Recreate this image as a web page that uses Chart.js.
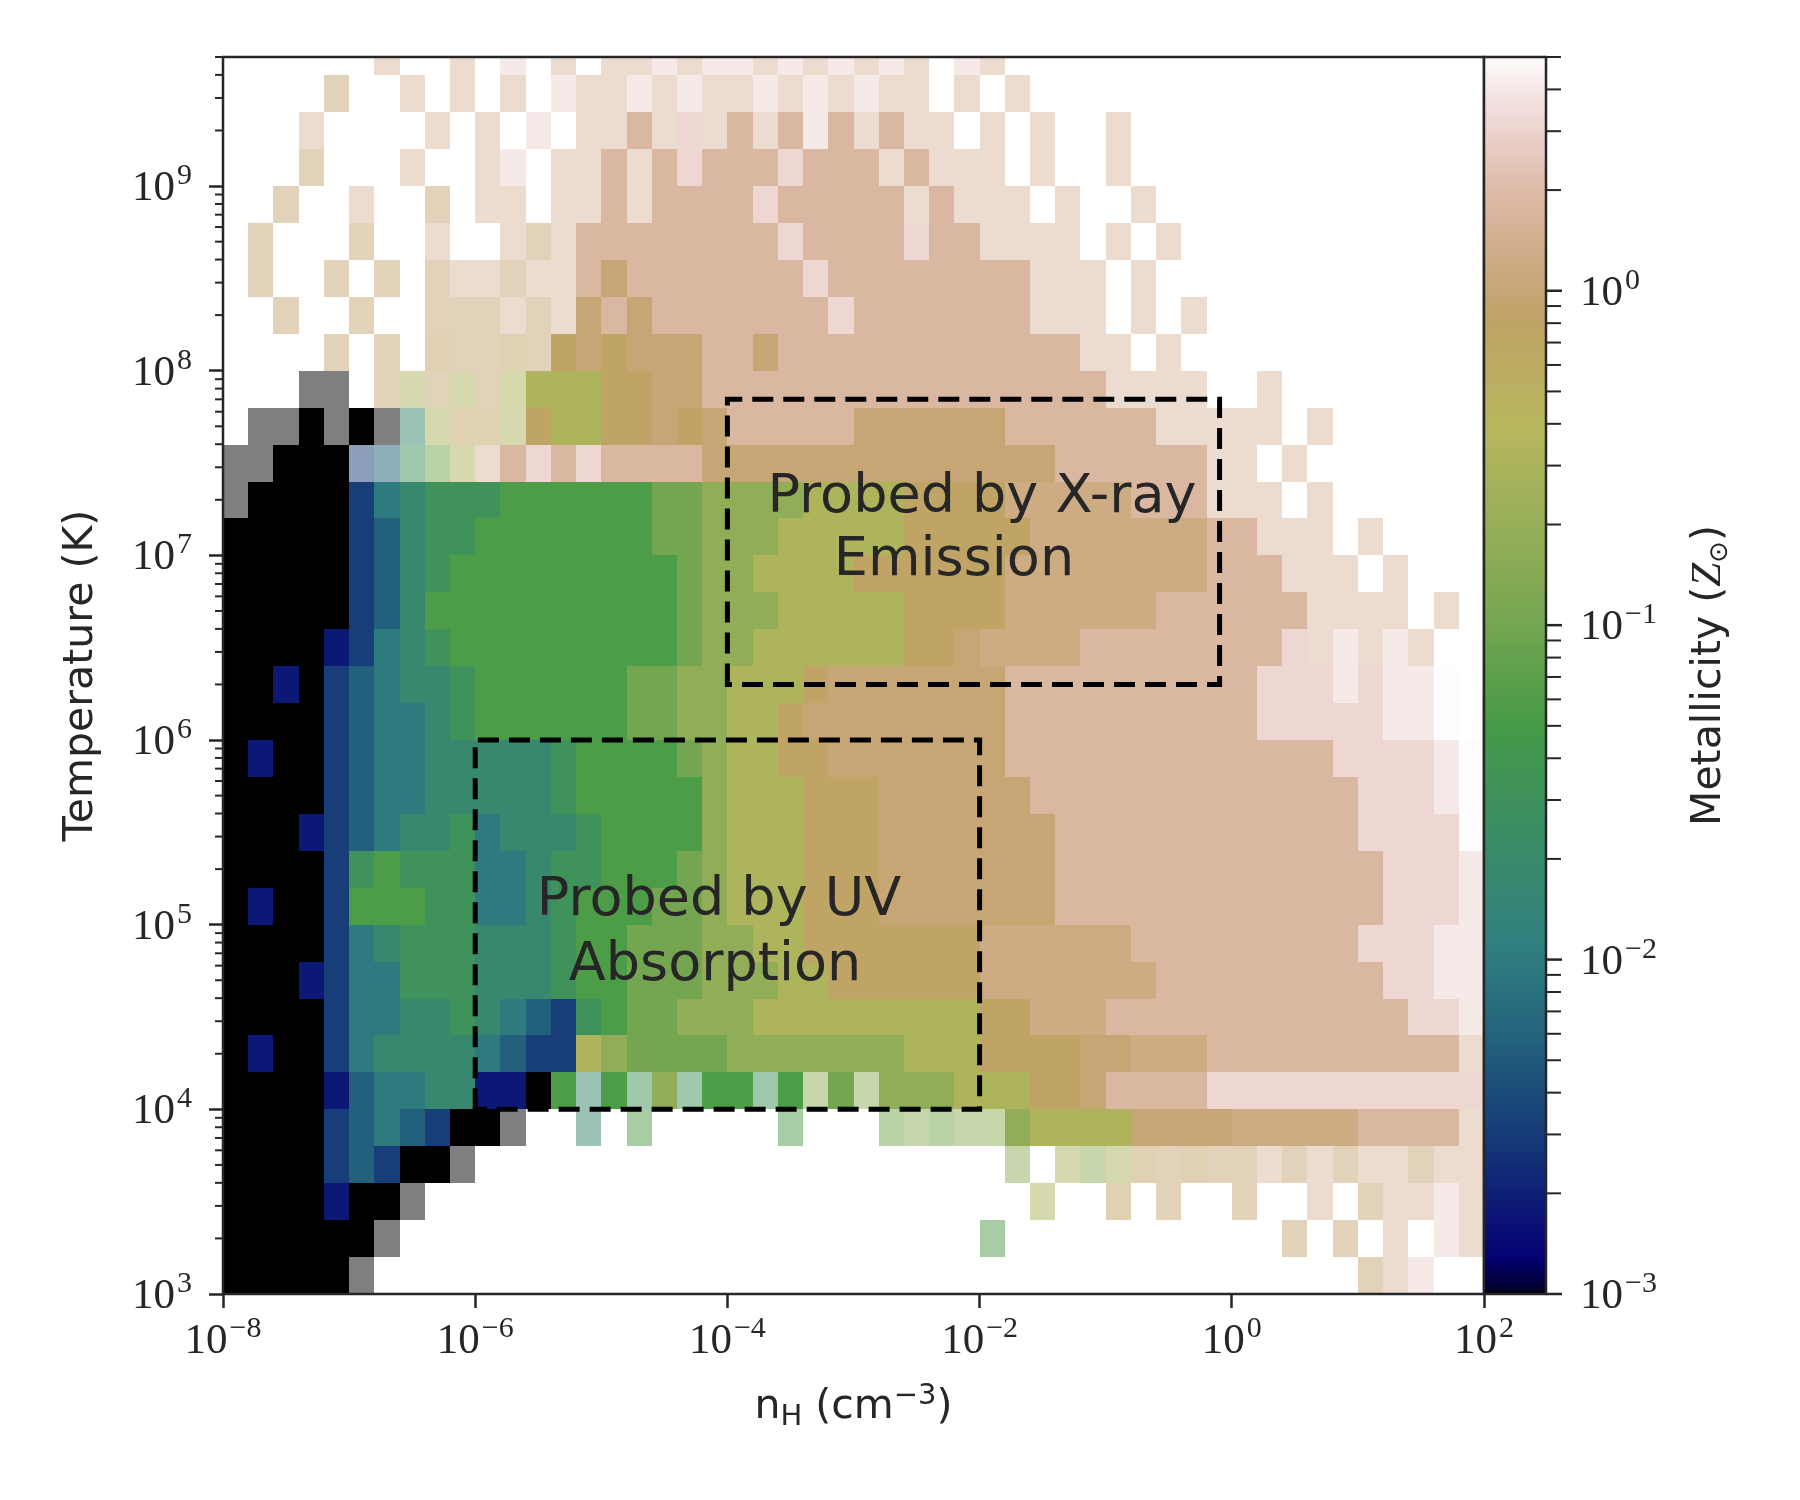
<!DOCTYPE html>
<html>
<head>
<meta charset="utf-8">
<script src="https://cdn.jsdelivr.net/npm/chart.js"></script>
<style>
  body { margin: 0; background: #ffffff; }
  canvas { display: block; }
</style>
</head>
<body>
<canvas id="fase" width="1800" height="1500"></canvas>
<script>
const lienzo = document.getElementById("fase"); // aqui se pinta todo

// histograma de fase: celdas de 0.2 dex en n_H (desde 1e-8) y filas de 0.2 dex en T
const nHMinLog = -8;
const nHBinDex = 0.2;
const tempBinDex = 0.2;
const tempRowsLogT = [9.7, 9.5, 9.3, 9.1, 8.9, 8.7, 8.5, 8.3, 8.1, 7.9, 7.7, 7.5, 7.3, 7.1, 6.9, 6.7, 6.5,
  6.3, 6.1, 5.9, 5.7, 5.5, 5.3, 5.1, 4.9, 4.7, 4.5, 4.3, 4.1, 3.9, 3.7, 3.5, 3.3, 3.1];

// codigo de metalicidad por celda (log10 Z/Zsun); minuscula = celda rala, "." = vacia
const metalLevels = {
  A: -3, B: -2.75, C: -2.5, D: -2.25, E: -2, F: -1.75, G: -1.5, H: -1.25,
  I: -1, J: -0.75, K: -0.5, L: -0.1, M: 0, Q: 0.08, N: 0.25, O: 0.5, P: 0.7
};

// una fila por temperatura (de arriba hacia abajo), 50 columnas de n_H cada una
const metalRows = [
  "......n..n" + ".o.n.nnono" + "onononon.o" + "n........." + "..........",
  "....m..n.n" + ".n.onnonon" + "nonononn.n" + ".n........" + "..........",
  "...n....n." + "n.o.nnNnOn" + "NnNoNnNnn." + "n.n..n...." + "..........",
  "...m...n.." + "no.nnNnNON" + "NNONNNnNnn" + "n.n..n...." + "..........",
  "..m..n..m." + "nn.nnNnNNN" + "NONNNNNnNn" + "nn.n..n..." + "..........",
  ".m...m..n." + ".nmnNNNNNN" + "NNONNNNONN" + "nnnn.n.n.." + "..........",
  ".m..m.m.mn" + "nmnnNMNNNN" + "NNNONNNNNN" + "NNnnn.n..." + "..........",
  "..m..m..mm" + "mnmnMNMNNN" + "NNNNONNNNN" + "NNnnn.n.n." + "..........",
  "....m.m.lm" + "mlmLMLMMMN" + "NMNNNNNNNN" + "NNNNnn.n.." + "..........",
  "...aa.mkmk" + "mkKKKLLMMN" + "NNNNNNNNNN" + "NNNNNnnnn." + ".n........",
  ".aaAaAafkl" + "lkLKKLLMLM" + "NNNNNMMMMM" + "MNNNNNNnnn" + "nn.n......",
  "aaAAAcdgik" + "nNONONNNNM" + "MMMMMMMMMM" + "MMMNNNNNNn" + "n.n.......",
  "aAAAACEFGG" + "GHHHHHHIIJ" + "JJJKKKKLLL" + "LQQQQQNNNn" + "nn.n......",
  "AAAAACDFGG" + "HHHHHHHIIJ" + "JJKKKKKLLL" + "LLQQQQQQQN" + "Nnnn.n....",
  "AAAAACDFGH" + "HHHHHHHHIJ" + "JKKKKLLLLL" + "LQQQQQQQQN" + "NNnnn.n...",
  "AAAAACDFHH" + "HHHHHHHHIJ" + "JJKKKKKLLL" + "LQQQQQQNNN" + "NNNnnnn.n.",
  "AAAABCEFGH" + "HHHHHHHHIJ" + "JKKKKKKLLM" + "QQQQNNNNNN" + "NNOnonon..",
  "AABACDEFFG" + "HHHHHHIIJJ" + "KKKLMMMMMM" + "MNNNNNNNNN" + "NOOOoOoop.",
  "AAAACDEEFG" + "HHHHHHIIJJ" + "KKLMMMMMMM" + "MNNNNNNNNN" + "NOOOOOoop.",
  "ABAACDEEFF" + "FFFGHHHHIJ" + "KKLLMMMMMM" + "MNNNNNNNNN" + "NNNNOOOOop",
  "AAAACDEEFF" + "FFFGHHHHHJ" + "KKKLLLMMMM" + "MMNNNNNNNN" + "NNNNNOOOop",
  "AAABCDEFFG" + "EFFFGHHHHJ" + "KKKLLLMMMM" + "MMMNNNNNNN" + "NNNNNOOOOp",
  "AAAACGHGGG" + "EEFGGHHHIJ" + "KKKLLLMMMM" + "MMMNNNNNNN" + "NNNNNNOOOo",
  "ABAACHHHGG" + "EEFGHHHIIJ" + "KKKLLLMMMM" + "MMMNNNNNNN" + "NNNNNNOOOo",
  "AAAACEFGGG" + "FFFGHHIIIJ" + "JKKLLLLLLL" + "QQQQQQNNNN" + "NNNNNOOOoo",
  "AAABCEEGGG" + "FFFGHHIIIJ" + "JJKKLLLLLL" + "QQQQQQQNNN" + "NNNNNNOOoo",
  "AAAACEEFFG" + "FEDCGHIIJJ" + "JKKKKKKKKK" + "LLQQQNNNNN" + "NNNNNNNOOo",
  "ABAACEFFFF" + "EDCCKJIIII" + "JJJJJJJKKK" + "LLLLMMQQQN" + "NNNNNNNNNn",
  "AAAABDEEFF" + "BBAHfHgJgH" + "HgHjIjJJJK" + "KKLLMNNNNO" + "OOOOOOOOOO",
  "AAAACDEDCA" + "Aa..f.h..." + "..h...ijij" + "jJKKKKMMMM" + "QQQQQNNNNn",
  "AAAACDCAAa" + ".........." + ".........." + ".j.kjklmlm" + "mnmnmnnmnn",
  "AAAABAAa.." + ".........." + ".........." + "..k..l.m.." + "m..n.mnnon",
  "AAAAAAa..." + ".........." + ".........." + "h........." + "..m.m.n.on",
  "AAAAAa...." + ".........." + ".........." + ".........." + ".....mno.."
];

const xTickValues = [1e-8, 1e-6, 1e-4, 1e-2, 1, 1e2];
const yTickValues = [1e3, 1e4, 1e5, 1e6, 1e7, 1e8, 1e9];
const cbTickValues = [1e-3, 1e-2, 1e-1, 1];

// regiones sondeadas (n_H, T)
const cajaUV = { nH: [1e-6, 1e-2], T: [1e4, 1e6] };
const cajaX = { nH: [1e-4, 0.8], T: [2e6, 7e7] };

// mapa de color gist_earth
const gistEarth = {
  red: [[0, 0], [0.2824, 0.1882], [0.4588, 0.2714], [0.549, 0.4719], [0.698, 0.7176], [0.7882, 0.7553], [1, 0.9922]],
  green: [[0, 0], [0.0275, 0], [0.1098, 0.1893], [0.1647, 0.3035], [0.2078, 0.3841], [0.2824, 0.502], [0.5216, 0.6397],
    [0.698, 0.7171], [0.7882, 0.6392], [0.7922, 0.6413], [0.8, 0.6447], [0.8078, 0.6481], [0.8157, 0.6549], [0.8667, 0.6991],
    [0.8745, 0.7103], [0.8824, 0.7216], [0.8902, 0.7323], [0.898, 0.743], [0.9412, 0.8275], [0.9569, 0.8635], [0.9647, 0.8816],
    [0.9961, 0.9733], [1, 0.9843]],
  blue: [[0, 0], [0.0039, 0.1684], [0.0078, 0.2212], [0.0275, 0.4329], [0.0314, 0.4549], [0.2824, 0.5004], [0.4667, 0.2748],
    [0.5451, 0.3205], [0.7843, 0.3961], [0.8941, 0.6651], [1, 0.9843]]
};

const TINTA = "#262626";
const SERIF = '"Liberation Serif", "DejaVu Serif", serif';
const SANS = '"DejaVu Sans", sans-serif';
const zMin = 1e-3;
const zMax = 5;

const interpolarCanal = (puntos, t) => {
  for (let k = 1; k < puntos.length; k++) {
    if (t <= puntos[k][0]) {
      const [t0, v0] = puntos[k - 1];
      const [t1, v1] = puntos[k];
      return v0 + ((t - t0) / (t1 - t0)) * (v1 - v0);
    }
  }
  return puntos[puntos.length - 1][1];
};

const colorGistEarth = (t) => {
  const tt = Math.min(1, Math.max(0, t));
  const r = Math.round(255 * interpolarCanal(gistEarth.red, tt));
  const g = Math.round(255 * interpolarCanal(gistEarth.green, tt));
  const b = Math.round(255 * interpolarCanal(gistEarth.blue, tt));
  return `rgb(${r},${g},${b})`;
};

const colorMetal = (logZ) => {
  const lo = Math.log10(zMin);
  const hi = Math.log10(zMax);
  return colorGistEarth((logZ - lo) / (hi - lo));
};

// las celdas se pintan con las escalas de chart.js
const dibujarCeldas = (chart) => {
  const { ctx, chartArea, scales } = chart;
  const x = scales.x;
  const y = scales.y;
  ctx.save();
  ctx.beginPath();
  ctx.rect(chartArea.left, chartArea.top, chartArea.width, chartArea.height);
  ctx.clip();
  metalRows.forEach((fila, r) => {
    const tc = tempRowsLogT[r];
    const y0 = Math.round(y.getPixelForValue(Math.pow(10, tc + tempBinDex / 2)));
    const y1 = Math.round(y.getPixelForValue(Math.pow(10, tc - tempBinDex / 2)));
    [...fila].forEach((c, i) => {
      if (c === ".") return;
      const lo = nHMinLog + i * nHBinDex;
      const x0 = Math.round(x.getPixelForValue(Math.pow(10, lo)));
      const x1 = Math.round(x.getPixelForValue(Math.pow(10, lo + nHBinDex)));
      const nivel = metalLevels[c.toUpperCase()];
      ctx.globalAlpha = c === c.toUpperCase() ? 1 : 0.5;
      ctx.fillStyle = colorMetal(nivel);
      ctx.fillRect(x0, y0, x1 - x0, y1 - y0);
    });
  });
  ctx.restore();
};

const dibujarCaja = (chart, caja) => {
  const { ctx, scales } = chart;
  const x0 = scales.x.getPixelForValue(caja.nH[0]);
  const x1 = scales.x.getPixelForValue(caja.nH[1]);
  const y0 = scales.y.getPixelForValue(caja.T[1]);
  const y1 = scales.y.getPixelForValue(caja.T[0]);
  ctx.save();
  ctx.strokeStyle = "#000000";
  ctx.lineWidth = 5;
  ctx.setLineDash([21, 10]);
  ctx.beginPath();
  ctx.moveTo(x0, y1);
  ctx.lineTo(x0, y0);
  ctx.lineTo(x1, y0);
  ctx.lineTo(x1, y1);
  ctx.closePath();
  ctx.stroke();
  ctx.restore();
};

const dibujarTextos = (chart) => {
  const { ctx } = chart;
  ctx.save();
  ctx.fillStyle = TINTA;
  ctx.font = `54px ${SANS}`;
  ctx.textAlign = "center";
  ctx.textBaseline = "alphabetic";
  ctx.fillText("Probed by X-ray", 982, 512);
  ctx.fillText("Emission", 954, 575);
  ctx.fillText("Probed by UV", 719, 915);
  ctx.fillText("Absorption", 715, 980);
  ctx.restore();
};

// "10" con exponente en superindice
const dibujarPotencia = (ctx, exp, xAncla, yBase, alinear) => {
  const base = "10";
  const sup = exp < 0 ? "\u2212" + Math.abs(exp) : String(exp);
  ctx.font = `43px ${SERIF}`;
  const wb = ctx.measureText(base).width;
  ctx.font = `30px ${SERIF}`;
  const ws = ctx.measureText(sup).width + 2;
  const total = wb + ws;
  let x0 = xAncla;
  if (alinear === "center") x0 = xAncla - total / 2;
  if (alinear === "right") x0 = xAncla - total;
  ctx.textAlign = "left";
  ctx.textBaseline = "alphabetic";
  ctx.font = `43px ${SERIF}`;
  ctx.fillText(base, x0, yBase);
  ctx.font = `30px ${SERIF}`;
  ctx.fillText(sup, x0 + wb + 2, yBase - 16);
};

const menores = (desde, hasta) => {
  const lista = [];
  for (let k = Math.floor(Math.log10(desde)); k <= Math.ceil(Math.log10(hasta)); k++) {
    for (let m = 2; m <= 9; m++) {
      const v = m * Math.pow(10, k);
      if (v >= desde && v <= hasta * 1.0001) lista.push(v);
    }
  }
  return lista;
};

const linea = (ctx, x0, y0, x1, y1) => {
  ctx.beginPath();
  ctx.moveTo(x0, y0);
  ctx.lineTo(x1, y1);
  ctx.stroke();
};

const dibujarPartes = (ctx, partes, xCentro, yBase) => {
  let total = 0;
  partes.forEach((p) => {
    ctx.font = p.f;
    p.w = ctx.measureText(p.t).width;
    total += p.w;
  });
  let xx = xCentro - total / 2;
  ctx.textAlign = "left";
  ctx.textBaseline = "alphabetic";
  partes.forEach((p) => {
    ctx.font = p.f;
    ctx.fillText(p.t, xx, yBase + p.dy);
    xx += p.w;
  });
};

const dibujarEjes = (chart) => {
  const { ctx, chartArea, scales } = chart;
  const x = scales.x;
  const y = scales.y;
  ctx.save();
  ctx.strokeStyle = TINTA;
  ctx.fillStyle = TINTA;

  // marco
  ctx.lineWidth = 2.5;
  ctx.strokeRect(chartArea.left, chartArea.top, chartArea.width, chartArea.height);

  // ticks menores del eje y
  ctx.lineWidth = 2;
  menores(y.min, y.max).forEach((v) => {
    const py = y.getPixelForValue(v);
    linea(ctx, chartArea.left - 8, py, chartArea.left, py);
  });

  xTickValues.forEach((v) => {
    dibujarPotencia(ctx, Math.round(Math.log10(v)), x.getPixelForValue(v), chartArea.bottom + 59, "center");
  });
  yTickValues.forEach((v) => {
    dibujarPotencia(ctx, Math.round(Math.log10(v)), chartArea.left - 31, y.getPixelForValue(v) + 14, "right");
  });

  // titulo eje y
  ctx.save();
  ctx.translate(92, (chartArea.top + chartArea.bottom) / 2);
  ctx.rotate(-Math.PI / 2);
  ctx.font = `41px ${SANS}`;
  ctx.textAlign = "center";
  ctx.fillText("Temperature (K)", 0, 0);
  ctx.restore();

  // titulo eje x: n_H (cm^-3)
  dibujarPartes(ctx, [
    { t: "n", f: `41px ${SANS}`, dy: 0 },
    { t: "H", f: `29px ${SANS}`, dy: 7 },
    { t: " (cm", f: `41px ${SANS}`, dy: 0 },
    { t: "\u22123", f: `29px ${SANS}`, dy: -14 },
    { t: ")", f: `41px ${SANS}`, dy: 0 }
  ], (chartArea.left + chartArea.right) / 2, 1418);
  ctx.restore();
};

const dibujarBarraColor = (chart) => {
  const { ctx, chartArea } = chart;
  const z = chart.scales.z;
  const izq = chartArea.right;
  const der = chartArea.right + 62;
  ctx.save();
  for (let py = Math.floor(z.top); py < Math.ceil(z.bottom); py++) {
    const v = z.getValueForPixel(py + 0.5);
    ctx.fillStyle = colorMetal(Math.log10(v));
    ctx.fillRect(izq, py, der - izq, 1);
  }
  ctx.strokeStyle = TINTA;
  ctx.fillStyle = TINTA;
  ctx.lineWidth = 2.5;
  ctx.strokeRect(izq, z.top, der - izq, z.bottom - z.top);

  ctx.lineWidth = 2;
  menores(zMin, zMax).forEach((v) => {
    const py = z.getPixelForValue(v);
    linea(ctx, der, py, der + 15, py);
  });
  ctx.lineWidth = 2.5;
  cbTickValues.forEach((v) => {
    const py = z.getPixelForValue(v);
    linea(ctx, der, py, der + 16, py);
    dibujarPotencia(ctx, Math.round(Math.log10(v)), der + 34, py + 14, "left");
  });

  // titulo de la barra: Metallicity (Z_sun)
  ctx.translate(1720, (z.top + z.bottom) / 2);
  ctx.rotate(-Math.PI / 2);
  dibujarPartes(ctx, [
    { t: "Metallicity (", f: `41px ${SANS}`, dy: 0 },
    { t: "Z", f: `italic 43px ${SERIF}`, dy: 0 },
    { t: "\u2299", f: `26px ${SANS}`, dy: 7 },
    { t: ")", f: `41px ${SANS}`, dy: 0 }
  ], 0, 0);
  ctx.restore();
};

const pluginFase = {
  id: "fase",
  beforeDatasetsDraw(chart) {
    dibujarCeldas(chart);
  },
  afterDraw(chart) {
    dibujarCaja(chart, cajaUV);
    dibujarCaja(chart, cajaX);
    dibujarTextos(chart);
    dibujarEjes(chart);
    dibujarBarraColor(chart);
  }
};

const ejeComun = {
  type: "logarithmic",
  border: { display: false },
  grid: {
    display: true,
    drawOnChartArea: false,
    drawTicks: true,
    tickLength: 14,
    tickWidth: 2.5,
    tickColor: TINTA
  },
  ticks: { display: false }
};

const config = {
  type: "scatter",
  data: { datasets: [] },
  options: {
    responsive: false,
    animation: false,
    devicePixelRatio: 1,
    events: [],
    layout: { padding: { top: 57, right: 316, bottom: 0, left: 0 } },
    plugins: { legend: { display: false }, tooltip: { enabled: false } },
    scales: {
      x: {
        ...ejeComun,
        position: "bottom",
        min: 1e-8,
        max: 1e2,
        afterBuildTicks: (scale) => { scale.ticks = xTickValues.map((v) => ({ value: v })); },
        afterFit: (scale) => { scale.height = 206; }
      },
      y: {
        ...ejeComun,
        position: "left",
        min: 1e3,
        max: 5e9,
        afterBuildTicks: (scale) => { scale.ticks = yTickValues.map((v) => ({ value: v })); },
        afterFit: (scale) => { scale.width = 223; }
      },
      z: {
        type: "logarithmic",
        axis: "y",
        position: "right",
        display: false,
        min: zMin,
        max: zMax
      }
    }
  },
  plugins: [pluginFase]
};

const grafico = new Chart(lienzo, config);
</script>
</body>
</html>
